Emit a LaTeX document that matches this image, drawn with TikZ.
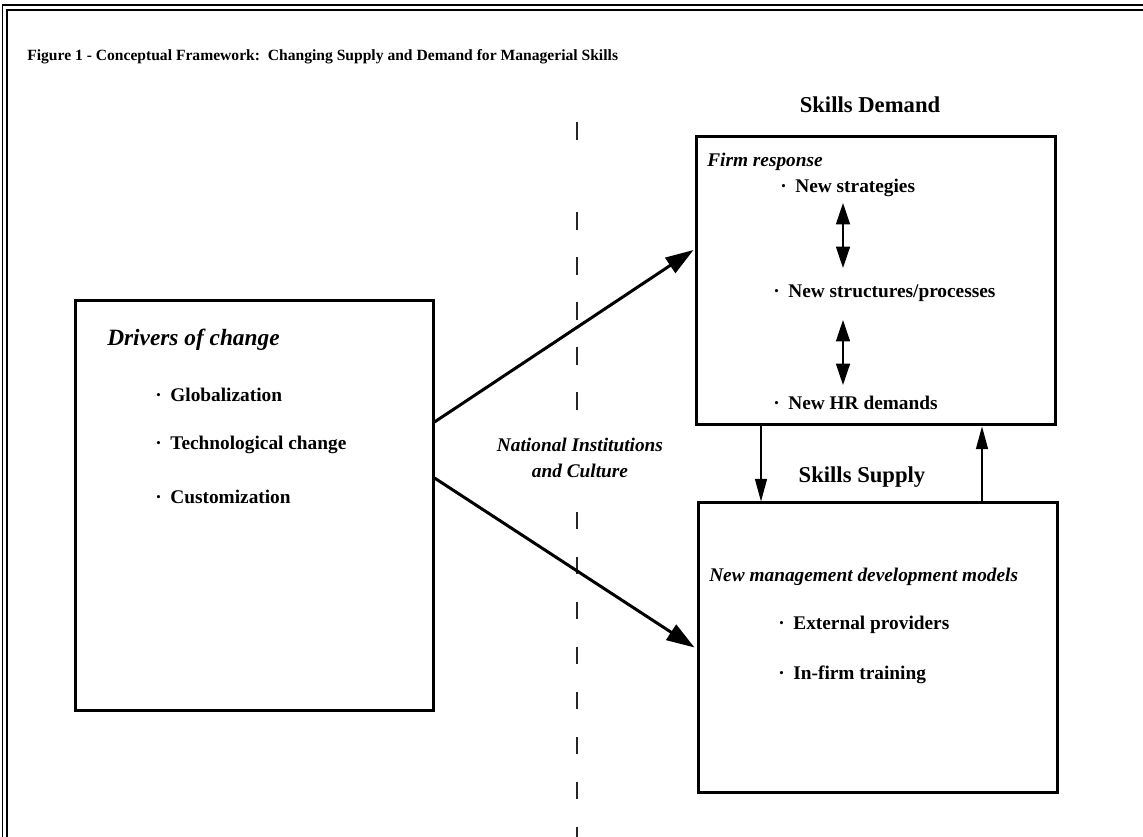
\documentclass[tikz,border=0pt]{standalone}
\usepackage{fontspec}
\setmainfont{Liberation Serif}
\usetikzlibrary{arrows.meta,calc}
\begin{document}
\begin{tikzpicture}[x=0.75pt,y=-0.75pt,
  box/.style={draw, line width=2.25pt, rectangle, inner sep=0pt},
  txt/.style={inner sep=0pt, anchor=west, font=\fontsize{14.5}{17}\selectfont\bfseries},
  itxt/.style={inner sep=0pt, anchor=west, font=\fontsize{14.5}{17}\selectfont\bfseries\itshape},
  head/.style={inner sep=0pt, font=\fontsize{17}{20}\selectfont\bfseries},
  bigarrow/.style={line width=2.25pt, -{Triangle[length=21pt,width=13.5pt]}},
  thinarrow/.style={line width=1.1pt, -{Triangle[length=17pt,width=9pt]}},
  dblarrow/.style={line width=1.1pt, {Triangle[length=16pt,width=10.5pt]}-{Triangle[length=16pt,width=10.5pt]}},
  divider/.style={line width=1.1pt, draw=black!85},
  frameout/.style={line width=0.8pt},
  framein/.style={line width=1.6pt}
]
\useasboundingbox (0,0) rectangle (1143,837);
% frame
\draw[frameout] (2.5,837) -- (2.5,5) -- (1143,5);
\draw[framein] (7,837) -- (7,10) -- (1143,10);

% title
\node[inner sep=0pt, anchor=west, font=\fontsize{11.7}{14}\selectfont\bfseries] (title) at (27,57)
  {Figure 1 - Conceptual Framework:\ \ Changing Supply and Demand for Managerial Skills};

% divider
\draw[divider] (577,122) -- (577,140);
\draw[divider, dash pattern=on 13.5pt off 20.25pt] (577,212) -- (577,425);
\draw[divider, dash pattern=on 13pt off 20.75pt] (577,512) -- (577,837);

\node[inner sep=2pt, align=center, font=\fontsize{14.5}{19.5}\selectfont\bfseries\itshape] (nat) at (580,458)
  {National Institutions\\and Culture};

% boxes
\node[box, minimum width=268.5pt, minimum height=306.75pt] (drv) at (254,505.5) {};
\node[box, minimum width=269.25pt, minimum height=216pt] (dem) at (875.5,281) {};
\node[box, minimum width=269.25pt, minimum height=216.75pt] (sup) at (877.5,647.5) {};

% left box text
\node[inner sep=0pt, anchor=west, font=\fontsize{17.5}{20}\selectfont\bfseries\itshape] (drvt) at (107,340) {Drivers of change};
\node[txt] (d1) at (155,395) {·\hspace{6.5pt}Globalization};
\node[txt] (d2) at (155,445) {·\hspace{6.5pt}Technological change};
\node[txt] (d3) at (155,497) {·\hspace{6.5pt}Customization};

% demand box
\node[head] (demh) at (870,105) {Skills Demand};
\node[itxt] (firm) at (707,162) {Firm response};
\node[txt] (s1) at (780,188) {·\hspace{6.5pt}New strategies};
\node[txt] (s2) at (773,293) {·\hspace{6.5pt}New structures/processes};
\node[txt] (s3) at (773,403) {·\hspace{6.5pt}New HR demands};
\draw[dblarrow] ($(s1.west)+(63,15)$) -- ($(s2.west)+(70,-25)$);
\draw[dblarrow] ($(s2.west)+(70,27)$) -- ($(s3.west)+(70,-18)$);

% supply box
\node[head] (suph) at (862,477) {Skills Supply};
\node[itxt] (mdm) at (709,577) {New management development models};
\node[txt] (e1) at (778,625) {·\hspace{6.5pt}External providers};
\node[txt] (e2) at (778,675) {·\hspace{6.5pt}In-firm training};

% connectors
\draw[bigarrow] ($(drv.east)+(0,-83.5)$) -- ($(dem.west)+(-1,-31)$);
\draw[bigarrow] ($(drv.east)+(0,-27.5)$) -- ($(sup.west)+(-2,0)$);
\draw[thinarrow] ($(dem.south)+(-114.5,0)$) -- ($(sup.north)+(-116.5,0)$);
\draw[thinarrow] ($(sup.north)+(104.5,0)$) -- ($(dem.south)+(106.5,0)$);
\end{tikzpicture}
\end{document}
